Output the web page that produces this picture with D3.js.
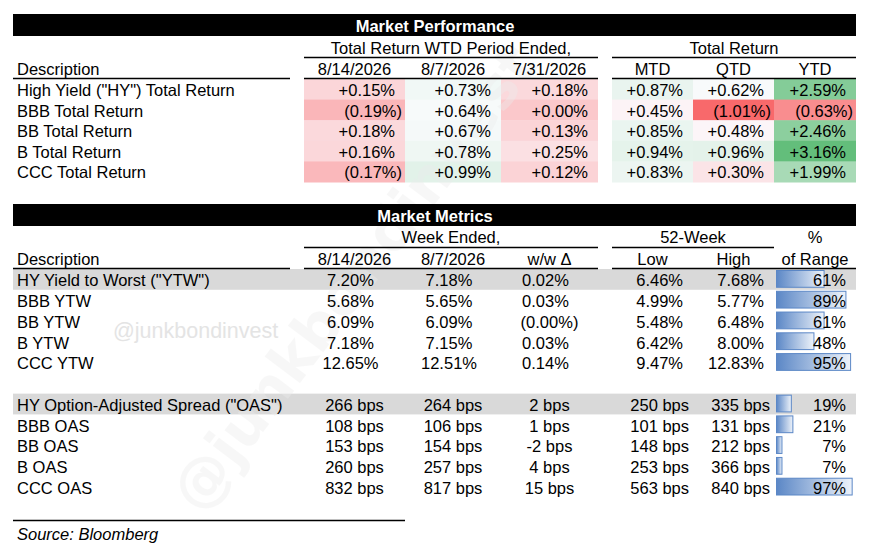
<!DOCTYPE html>
<html>
<head>
<meta charset="utf-8">
<script src="https://cdn.jsdelivr.net/npm/d3@7"></script>
<style>
  body { margin: 0; background: #fff; }
  svg { display: block; font-family: "Liberation Sans", Arial, sans-serif; }
</style>
</head>
<body>
<script>
// ---- data: market performance (total returns, %) ----
const perfLabels = ['High Yield ("HY") Total Return', "BBB Total Return", "BB Total Return", "B Total Return", "CCC Total Return"];
const wtdDates = ["8/14/2026", "8/7/2026", "7/31/2026"];
const periodLabels = ["MTD", "QTD", "YTD"];
const wtd0814 = [0.15, -0.19, 0.18, 0.16, -0.17];
const wtd0807 = [0.73, 0.64, 0.67, 0.78, 0.99];
const wtd0731 = [0.18, 0.00, 0.13, 0.25, 0.12];
const mtd = [0.87, 0.45, 0.85, 0.94, 0.83];
const qtd = [0.62, -1.01, 0.48, 0.96, 0.30];
const ytd = [2.59, -0.63, 2.46, 3.16, 1.99];

// ---- data: market metrics ----
const ytwLabels = ['HY Yield to Worst ("YTW")', "BBB YTW", "BB YTW", "B YTW", "CCC YTW"];
const ytwNow = [7.20, 5.68, 6.09, 7.18, 12.65];
const ytwPrev = [7.18, 5.65, 6.09, 7.15, 12.51];
const ytwChg = [0.02, 0.03, -0.00, 0.03, 0.14];
const ytwLow = [6.46, 4.99, 5.48, 6.42, 9.47];
const ytwHigh = [7.68, 5.77, 6.48, 8.00, 12.83];
const ytwRange = [61, 89, 61, 48, 95];

const oasLabels = ['HY Option-Adjusted Spread ("OAS")', "BBB OAS", "BB OAS", "B OAS", "CCC OAS"];
const oasNow = [266, 108, 153, 260, 832];
const oasPrev = [264, 106, 154, 257, 817];
const oasChg = [2, 1, -2, 4, 15];
const oasLow = [250, 101, 148, 253, 563];
const oasHigh = [335, 131, 212, 366, 840];
const oasRange = [19, 21, 7, 7, 97];

const metricHeads = ["8/14/2026", "8/7/2026", "w/w \u0394", "Low", "High"];

// ---- layout ----
const W = 872, H = 550;
const L = 13, R = 856;
const cols = [[304, 405], [405, 501], [501, 598], [612, 693], [693, 774], [774, 856]];
const groups = [[304, 598], [612, 856]];
const fs = 16.5;

const svg = d3.select("body").append("svg")
    .attr("width", W)
    .attr("height", H);
svg.append("rect").attr("width", W).attr("height", H).attr("fill", "#fff");

const isNeg = v => v < 0 || Object.is(v, -0);
const f2 = d3.format(".2f");
const fmtRet = v => isNeg(v) ? "(" + f2(Math.abs(v)) + "%)" : "+" + f2(v) + "%";
const fmtPct = v => isNeg(v) ? "(" + f2(Math.abs(v)) + "%)" : f2(v) + "%";
const fmtBps = v => v + " bps";

const layerFill = svg.append("g");
const layerMark = svg.append("g").style("pointer-events", "none");
const layerTop = svg.append("g");

function hline(x1, x2, y) {
    layerTop.append("line")
        .attr("x1", x1).attr("x2", x2)
        .attr("y1", y).attr("y2", y)
        .attr("stroke", "#000").attr("stroke-width", 1.3);
}
function txt(t, x, y, anchor, opts) {
    opts = opts || {};
    return layerTop.append("text")
        .attr("x", x).attr("y", y)
        .attr("text-anchor", anchor || "start")
        .attr("font-size", opts.size || fs)
        .attr("font-weight", opts.weight || "normal")
        .attr("font-style", opts.style || "normal")
        .attr("fill", opts.fill || "#000")
        .text(t);
}
function titleBar(t, y) {
    layerTop.append("rect").attr("x", L).attr("y", y).attr("width", R - L).attr("height", 22).attr("fill", "#000");
    txt(t, 435, y + 17.5, "middle", { size: 16.5, weight: "bold", fill: "#fff" });
}

// ================= Market Performance =================
titleBar("Market Performance", 14);
txt("Total Return WTD Period Ended,", (groups[0][0] + groups[0][1]) / 2, 54, "middle");
txt("Total Return", (groups[1][0] + groups[1][1]) / 2, 54, "middle");
hline(groups[0][0], groups[0][1], 57.5);
hline(groups[1][0], groups[1][1], 57.5);
txt("Description", 17, 75);
hline(L, 290, 78.5);
wtdDates.concat(periodLabels).forEach((h, i) => {
    txt(h, (cols[i][0] + cols[i][1]) / 2, 75, "middle");
});
hline(groups[0][0], groups[0][1], 78.5);
hline(groups[1][0], groups[1][1], 78.5);

const perfSeries = [wtd0814, wtd0807, wtd0731, mtd, qtd, ytd];
const allRet = perfSeries.flat();
const color = d3.scaleLinear()
    .domain([d3.min(allRet), d3.median(allRet), d3.max(allRet)])
    .range(["#F8696B", "#FCFCFF", "#63BE7B"]);

const yPerf = d3.scaleBand().domain(perfLabels).range([79, 182]);

perfLabels.forEach((lab, r) => {
    const y0 = yPerf(lab);
    txt(lab, 17, y0 + 17);
    perfSeries.forEach((ser, c) => {
        const v = ser[r];
        layerFill.append("rect")
            .attr("x", cols[c][0]).attr("y", y0)
            .attr("width", cols[c][1] - cols[c][0])
            .attr("height", yPerf.bandwidth() + 0.5)
            .attr("fill", color(v));
        txt(fmtRet(v), cols[c][1] - (isNeg(v) ? 3 : 10), y0 + 17, "end");
    });
});

// ================= Market Metrics =================
titleBar("Market Metrics", 204);
txt("Week Ended,", (groups[0][0] + groups[0][1]) / 2, 243, "middle");
txt("52-Week", (cols[3][0] + cols[4][1]) / 2, 243, "middle");
txt("%", (cols[5][0] + cols[5][1]) / 2, 243, "middle");
hline(groups[0][0], groups[0][1], 247.5);
hline(cols[3][0], cols[4][1], 247.5);
txt("Description", 17, 265);
metricHeads.forEach((h, i) => txt(h, (cols[i][0] + cols[i][1]) / 2, 265, "middle"));
txt("of Range", (cols[5][0] + cols[5][1]) / 2, 265, "middle");
hline(L, 290, 268.5);
hline(groups[0][0], groups[0][1], 268.5);
hline(groups[1][0], R, 268.5);

const metricKeys = d3.range(11);
const yMet = d3.scaleBand().domain(metricKeys).range([269, 497.5]);
const barW = d3.scaleLinear().domain([0, 100]).range([0, 78]);

const grad = svg.append("defs").append("linearGradient")
    .attr("id", "barGrad").attr("x1", "0").attr("x2", "1").attr("y1", "0").attr("y2", "0");
grad.append("stop").attr("offset", "0").attr("stop-color", "#5b87c6");
grad.append("stop").attr("offset", "1").attr("stop-color", "#eef3fa");

const blocks = [
    { start: 0, labels: ytwLabels, now: ytwNow, prev: ytwPrev, chg: ytwChg, low: ytwLow, high: ytwHigh, rng: ytwRange, fmt: fmtPct, unit: "pct" },
    { start: 6, labels: oasLabels, now: oasNow, prev: oasPrev, chg: oasChg, low: oasLow, high: oasHigh, rng: oasRange, fmt: fmtBps, unit: "bps" }
];

blocks.forEach(b => {
    b.labels.forEach((lab, i) => {
        const y0 = yMet(b.start + i);
        const bl = y0 + 17.3;
        if (i === 0) {
            layerFill.append("rect")
                .attr("x", L).attr("y", y0)
                .attr("width", R - L).attr("height", yMet.bandwidth())
                .attr("fill", "#d9d9d9");
        }
        txt(lab, 17, bl);
        // centered columns
        [b.now[i], b.prev[i], b.chg[i]].forEach((v, c) => {
            const cx = (cols[c][0] + cols[c][1]) / 2;
            const dx = (b.unit === "pct" && !isNeg(v)) ? -4 : 0;
            txt(b.fmt(v), cx + dx, bl, "middle");
        });
        // low / high, right aligned
        [b.low[i], b.high[i]].forEach((v, k) => {
            const c = 3 + k;
            txt(b.fmt(v), cols[c][1] - (b.unit === "pct" ? 10 : 4), bl, "end");
        });
        // data bar
        const w = Math.max(3, barW(b.rng[i]));
        layerFill.append("rect")
            .attr("x", cols[5][0] + 2.5).attr("y", y0 + 1.5)
            .attr("width", w).attr("height", yMet.bandwidth() - 4)
            .attr("fill", "url(#barGrad)")
            .attr("stroke", "#5b87c6").attr("stroke-width", 1);
        txt(b.rng[i] + "%", cols[5][1] - 10, bl, "end");
    });
});

// source
hline(L, 405, 520.5);
txt("Source: Bloomberg", 17, 540, "start", { style: "italic", size: 16.5 });

// ---- watermarks ----
layerMark.append("text")
    .attr("x", 113).attr("y", 338)
    .attr("font-size", 21.5)
    .attr("fill", "#e4e4e4")
    .text("@junkbondinvest");
layerMark.append("text")
    .attr("transform", "translate(370,290) rotate(-53)")
    .attr("text-anchor", "middle")
    .attr("font-size", 58)
    .attr("font-weight", "bold")
    .attr("font-family", "'DejaVu Sans', sans-serif")
    .attr("fill", "#ececec")
    .attr("opacity", 0.38)
    .text("@junkbondinvest");
</script>
</body>
</html>
